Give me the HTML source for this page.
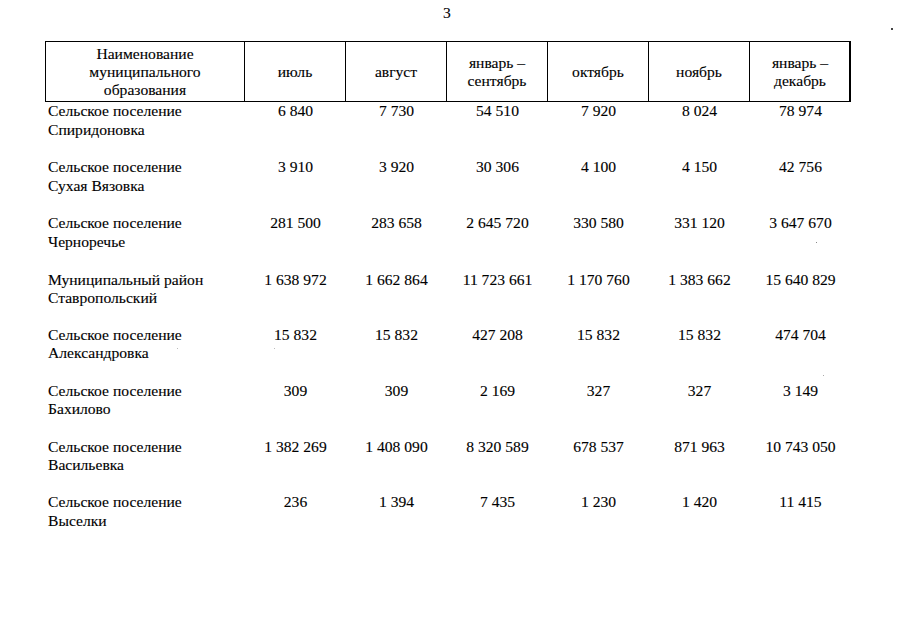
<!DOCTYPE html>
<html><head><meta charset="utf-8"><style>
html,body{margin:0;padding:0;background:#fff;}
body{width:905px;height:640px;position:relative;overflow:hidden;font-family:"Liberation Serif",serif;font-size:15.6px;line-height:20px;color:#000;-webkit-text-stroke:0.12px #000;}
.c{position:absolute;white-space:pre;text-align:center;width:200px;}
.l{position:absolute;white-space:pre;}
.h{position:absolute;background:#000;}
</style></head><body>

<div class="c" style="left:347px;top:2.6px">3</div>
<div class="h" style="left:45px;top:41px;width:806px;height:1.3px"></div>
<div class="h" style="left:45px;top:101px;width:806px;height:1.2px"></div>
<div class="h" style="left:45px;top:41px;width:1.3px;height:61px"></div>
<div class="h" style="left:244px;top:41px;width:1.1px;height:61px"></div>
<div class="h" style="left:345px;top:41px;width:1.1px;height:61px"></div>
<div class="h" style="left:446px;top:41px;width:1.1px;height:61px"></div>
<div class="h" style="left:547px;top:41px;width:1.1px;height:61px"></div>
<div class="h" style="left:648px;top:41px;width:1.1px;height:61px"></div>
<div class="h" style="left:749px;top:41px;width:1.1px;height:61px"></div>
<div class="h" style="left:849px;top:41px;width:1.7px;height:61px"></div>
<div class="c" style="left:45.0px;top:43.5px">Наименование</div>
<div class="c" style="left:45.0px;top:61.6px">муниципального</div>
<div class="c" style="left:45.0px;top:80.3px">образования</div>
<div class="c" style="left:195.0px;top:61.6px">июль</div>
<div class="c" style="left:296.0px;top:61.6px">август</div>
<div class="c" style="left:397.0px;top:52.8px">январь –</div>
<div class="c" style="left:397.0px;top:71.4px">сентябрь</div>
<div class="c" style="left:498.0px;top:61.6px">октябрь</div>
<div class="c" style="left:599.0px;top:61.6px">ноябрь</div>
<div class="c" style="left:700.0px;top:52.8px">январь –</div>
<div class="c" style="left:700.0px;top:71.4px">декабрь</div>
<div class="l" style="left:48px;top:101.0px">Сельское поселение</div>
<div class="l" style="left:48px;top:119.6px">Спиридоновка</div>
<div class="c" style="left:195.5px;top:101.0px">6 840</div>
<div class="c" style="left:296.5px;top:101.0px">7 730</div>
<div class="c" style="left:397.5px;top:101.0px">54 510</div>
<div class="c" style="left:498.5px;top:101.0px">7 920</div>
<div class="c" style="left:599.5px;top:101.0px">8 024</div>
<div class="c" style="left:700.5px;top:101.0px">78 974</div>
<div class="l" style="left:48px;top:157.4px">Сельское поселение</div>
<div class="l" style="left:48px;top:176.3px">Сухая Вязовка</div>
<div class="c" style="left:195.5px;top:157.4px">3 910</div>
<div class="c" style="left:296.5px;top:157.4px">3 920</div>
<div class="c" style="left:397.5px;top:157.4px">30 306</div>
<div class="c" style="left:498.5px;top:157.4px">4 100</div>
<div class="c" style="left:599.5px;top:157.4px">4 150</div>
<div class="c" style="left:700.5px;top:157.4px">42 756</div>
<div class="l" style="left:48px;top:213.4px">Сельское поселение</div>
<div class="l" style="left:48px;top:232.3px">Черноречье</div>
<div class="c" style="left:195.5px;top:213.4px">281 500</div>
<div class="c" style="left:296.5px;top:213.4px">283 658</div>
<div class="c" style="left:397.5px;top:213.4px">2 645 720</div>
<div class="c" style="left:498.5px;top:213.4px">330 580</div>
<div class="c" style="left:599.5px;top:213.4px">331 120</div>
<div class="c" style="left:700.5px;top:213.4px">3 647 670</div>
<div class="l" style="left:48px;top:269.5px">Муниципальный район</div>
<div class="l" style="left:48px;top:288.4px">Ставропольский</div>
<div class="c" style="left:195.5px;top:269.5px">1 638 972</div>
<div class="c" style="left:296.5px;top:269.5px">1 662 864</div>
<div class="c" style="left:397.5px;top:269.5px">11 723 661</div>
<div class="c" style="left:498.5px;top:269.5px">1 170 760</div>
<div class="c" style="left:599.5px;top:269.5px">1 383 662</div>
<div class="c" style="left:700.5px;top:269.5px">15 640 829</div>
<div class="l" style="left:48px;top:324.6px">Сельское поселение</div>
<div class="l" style="left:48px;top:343.1px">Александровка</div>
<div class="c" style="left:195.5px;top:324.6px">15 832</div>
<div class="c" style="left:296.5px;top:324.6px">15 832</div>
<div class="c" style="left:397.5px;top:324.6px">427 208</div>
<div class="c" style="left:498.5px;top:324.6px">15 832</div>
<div class="c" style="left:599.5px;top:324.6px">15 832</div>
<div class="c" style="left:700.5px;top:324.6px">474 704</div>
<div class="l" style="left:48px;top:380.6px">Сельское поселение</div>
<div class="l" style="left:48px;top:399.4px">Бахилово</div>
<div class="c" style="left:195.5px;top:380.6px">309</div>
<div class="c" style="left:296.5px;top:380.6px">309</div>
<div class="c" style="left:397.5px;top:380.6px">2 169</div>
<div class="c" style="left:498.5px;top:380.6px">327</div>
<div class="c" style="left:599.5px;top:380.6px">327</div>
<div class="c" style="left:700.5px;top:380.6px">3 149</div>
<div class="l" style="left:48px;top:436.6px">Сельское поселение</div>
<div class="l" style="left:48px;top:455.4px">Васильевка</div>
<div class="c" style="left:195.5px;top:436.6px">1 382 269</div>
<div class="c" style="left:296.5px;top:436.6px">1 408 090</div>
<div class="c" style="left:397.5px;top:436.6px">8 320 589</div>
<div class="c" style="left:498.5px;top:436.6px">678 537</div>
<div class="c" style="left:599.5px;top:436.6px">871 963</div>
<div class="c" style="left:700.5px;top:436.6px">10 743 050</div>
<div class="l" style="left:48px;top:492.4px">Сельское поселение</div>
<div class="l" style="left:48px;top:511.0px">Выселки</div>
<div class="c" style="left:195.5px;top:492.4px">236</div>
<div class="c" style="left:296.5px;top:492.4px">1 394</div>
<div class="c" style="left:397.5px;top:492.4px">7 435</div>
<div class="c" style="left:498.5px;top:492.4px">1 230</div>
<div class="c" style="left:599.5px;top:492.4px">1 420</div>
<div class="c" style="left:700.5px;top:492.4px">11 415</div>
<div class="h" style="left:891px;top:28px;width:2px;height:1.5px;background:#444"></div>
<div class="h" style="left:816px;top:242px;width:1.2px;height:1.2px;background:#888"></div>
<div class="h" style="left:177px;top:348px;width:1px;height:1px;background:#bbb"></div>
<div class="h" style="left:273.5px;top:348px;width:1px;height:1px;background:#bbb"></div>
<div class="h" style="left:823px;top:375px;width:1px;height:1px;background:#aaa"></div>
</body></html>
